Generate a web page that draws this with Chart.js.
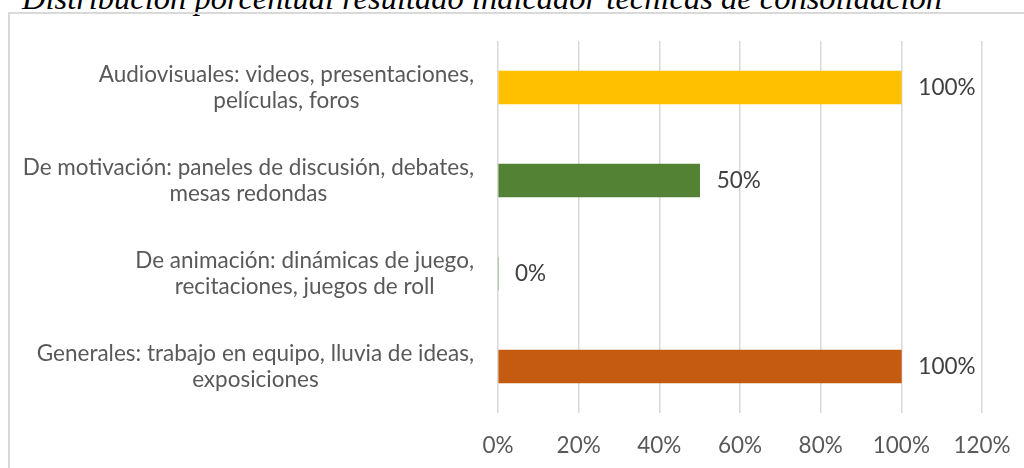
<!DOCTYPE html>
<html>
<head>
<meta charset="utf-8">
<script src="https://cdn.jsdelivr.net/npm/chart.js@4.4.1/dist/chart.umd.min.js"></script>
<style>
    body { margin: 0; width: 1024px; height: 468px; overflow: hidden; background: #fff; position: relative; }
    .titulo {
        position: absolute; left: 22px; top: -18px; margin: 0;
        font-family: "Liberation Serif", serif; font-style: italic; font-size: 32.5px; line-height: 32.5px;
        color: #000; white-space: nowrap;
    }
    .marco {
        position: absolute; left: 8px; top: 12px; width: 1100px; height: 600px;
        border: 2px solid #d9d9d9; box-sizing: border-box;
    }
    canvas { position: absolute; left: 0; top: 0; }
</style>
</head>
<body>
<p class="titulo">Distribución porcentual resultado indicador técnicas de consolidación</p>
<div class="marco"></div>
<canvas id="grafico" width="1024" height="468"></canvas>
<script>
// categorias de arriba hacia abajo
const categorias = [
    ['Audiovisuales: videos, presentaciones,', 'películas, foros'],
    ['De motivación: paneles de discusión, debates,', 'mesas redondas'],
    ['De animación: dinámicas de juego,', 'recitaciones, juegos de roll'],
    ['Generales: trabajo en equipo, lluvia de ideas,', 'exposiciones']
];
const valores = [1.0, 0.5, 0.0, 1.0];
const colores = ['#FFC000', '#548235', '#548235', '#C55A11'];
const ticksX = [0, 0.2, 0.4, 0.6, 0.8, 1.0, 1.2];

const fuente = 'Lato, "Liberation Sans", sans-serif';
const tamFuente = 22.5;

// etiquetas de categoria: bloque alineado a la derecha, lineas centradas entre si
const etiquetasCategoria = {
    id: 'etiquetasCategoria',
    afterDraw(chart) {
        const ctx = chart.ctx;
        const y = chart.scales.y;
        const derecha = 474;
        const alto = 26;
        ctx.save();
        ctx.font = tamFuente + 'px ' + fuente;
        ctx.fillStyle = '#595959';
        ctx.textAlign = 'center';
        ctx.textBaseline = 'middle';
        categorias.forEach((lineas, i) => {
            const ancho = Math.max(...lineas.map(l => ctx.measureText(l).width));
            const cx = derecha - ancho / 2;
            const cy = y.getPixelForTick(i);
            lineas.forEach((l, j) => {
                ctx.fillText(l, cx, cy + (j - (lineas.length - 1) / 2) * alto);
            });
        });
        ctx.restore();
    }
};

// etiquetas de valor al final de cada barra
const etiquetasValor = {
    id: 'etiquetasValor',
    afterDatasetsDraw(chart) {
        const ctx = chart.ctx;
        const meta = chart.getDatasetMeta(0);
        ctx.save();
        ctx.font = tamFuente + 'px ' + fuente;
        ctx.fillStyle = '#404040';
        ctx.textAlign = 'left';
        ctx.textBaseline = 'middle';
        meta.data.forEach((barra, i) => {
            ctx.fillText(Math.round(valores[i] * 100) + '%', barra.x + 17, barra.y);
        });
        ctx.restore();
    }
};

new Chart(document.getElementById('grafico'), {
    type: 'bar',
    data: {
        labels: categorias,
        datasets: [{
            data: valores,
            backgroundColor: colores,
            borderWidth: 0,
            barThickness: 33
        }]
    },
    options: {
        indexAxis: 'y',
        responsive: false,
        animation: false,
        layout: { padding: { left: 498, right: 42, top: 41, bottom: 0 } },
        scales: {
            x: {
                min: 0,
                max: 1.2,
                afterBuildTicks: scale => { scale.ticks = ticksX.map(v => ({ value: v })); },
                afterFit: scale => {
                    scale.height = 55;
                    scale.paddingLeft = 0;
                    scale.paddingRight = 0;
                },
                grid: { color: '#d9d9d9', lineWidth: 1.5, drawTicks: false },
                border: { display: false },
                ticks: {
                    padding: 19,
                    color: '#595959',
                    font: { family: fuente, size: tamFuente },
                    callback: v => Math.round(v * 100) + '%'
                }
            },
            y: {
                afterFit: scale => { scale.width = 0; },
                grid: { display: false },
                border: { display: false },
                ticks: { display: false }
            }
        },
        plugins: {
            legend: { display: false },
            tooltip: { enabled: false }
        }
    },
    plugins: [etiquetasCategoria, etiquetasValor]
});
</script>
</body>
</html>
